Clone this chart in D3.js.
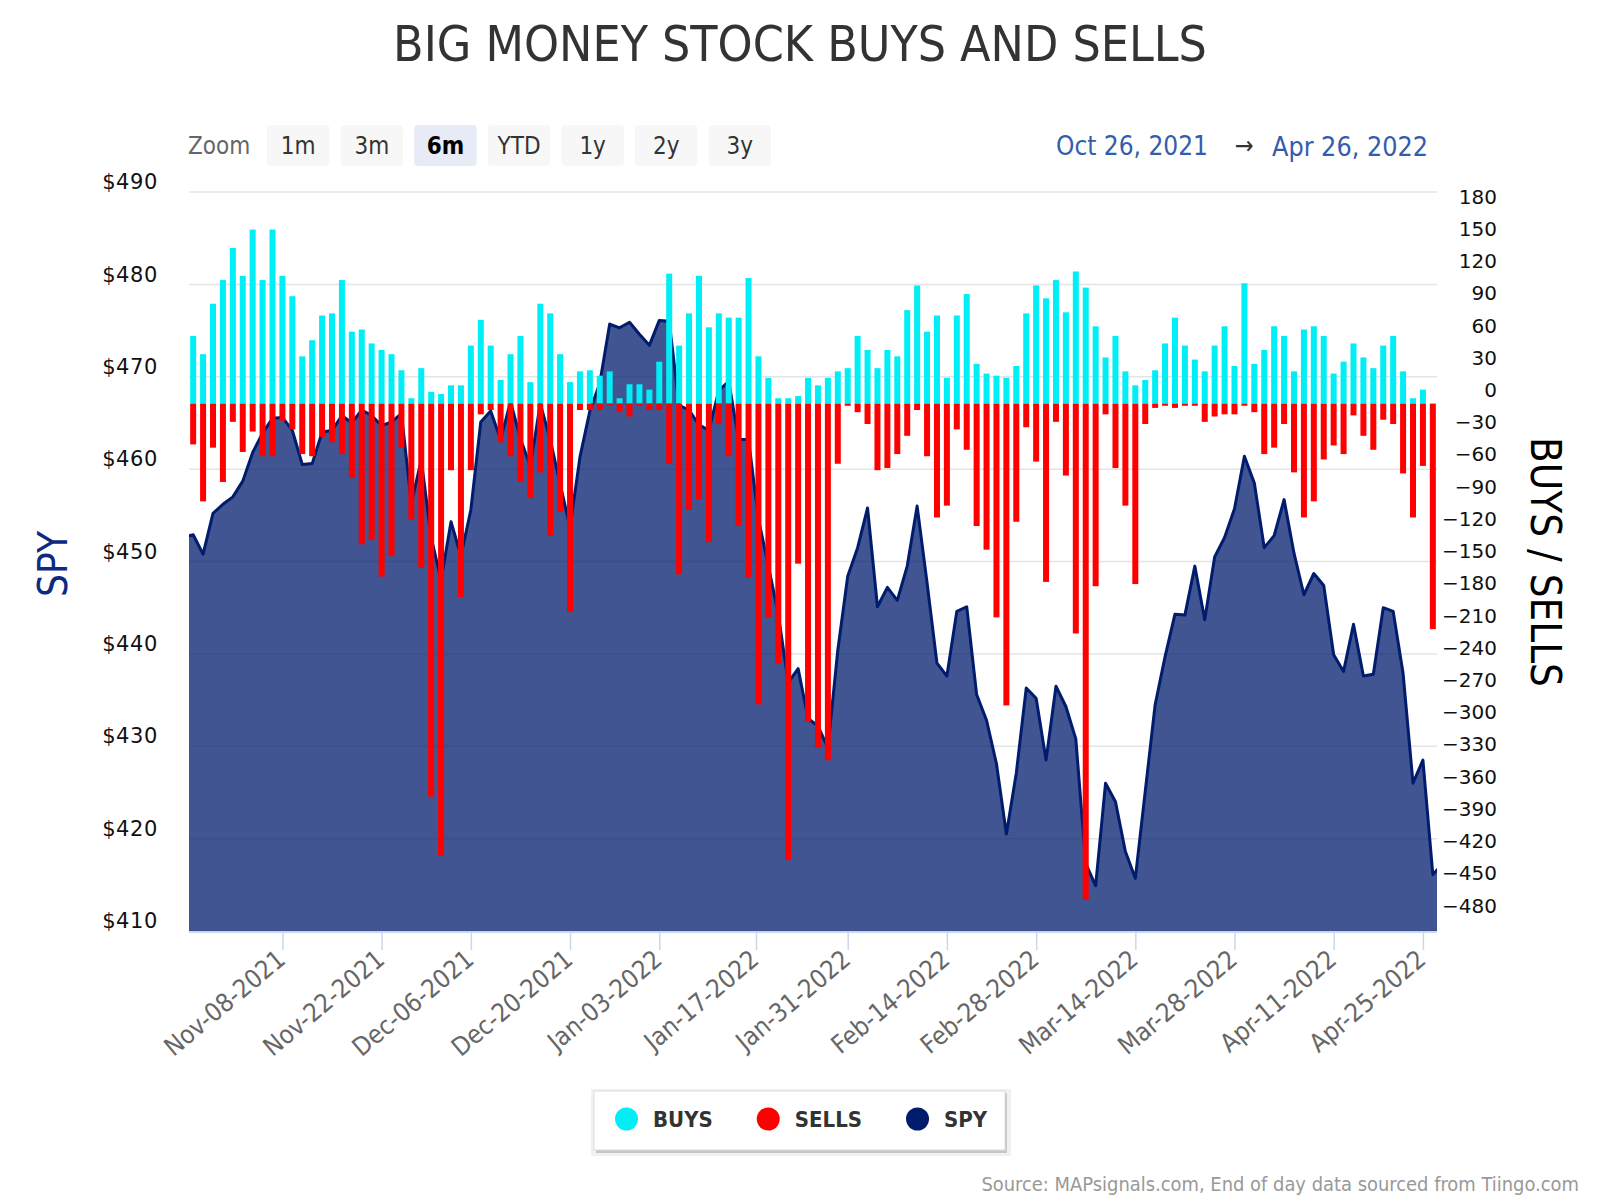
<!DOCTYPE html>
<html><head><meta charset="utf-8">
<script src="https://cdn.jsdelivr.net/npm/d3@7"></script>
<style>
body{margin:0;background:#fff;}
svg{display:block;}
</style></head><body>
<svg id="chart" width="1600" height="1200"></svg>
<script>
// ---------------- DATA ----------------
const dates = [
"2021-10-26","2021-10-27","2021-10-28","2021-10-29",
"2021-11-01","2021-11-02","2021-11-03","2021-11-04","2021-11-05","2021-11-08","2021-11-09","2021-11-10","2021-11-11","2021-11-12",
"2021-11-15","2021-11-16","2021-11-17","2021-11-18","2021-11-19","2021-11-22","2021-11-23","2021-11-24","2021-11-26","2021-11-29","2021-11-30",
"2021-12-01","2021-12-02","2021-12-03","2021-12-06","2021-12-07","2021-12-08","2021-12-09","2021-12-10","2021-12-13","2021-12-14","2021-12-15",
"2021-12-16","2021-12-17","2021-12-20","2021-12-21","2021-12-22","2021-12-23","2021-12-27","2021-12-28","2021-12-29","2021-12-30","2021-12-31",
"2022-01-03","2022-01-04","2022-01-05","2022-01-06","2022-01-07","2022-01-10","2022-01-11","2022-01-12","2022-01-13","2022-01-14",
"2022-01-18","2022-01-19","2022-01-20","2022-01-21","2022-01-24","2022-01-25","2022-01-26","2022-01-27","2022-01-28","2022-01-31",
"2022-02-01","2022-02-02","2022-02-03","2022-02-04","2022-02-07","2022-02-08","2022-02-09","2022-02-10","2022-02-11",
"2022-02-14","2022-02-15","2022-02-16","2022-02-17","2022-02-18","2022-02-22","2022-02-23","2022-02-24","2022-02-25","2022-02-28",
"2022-03-01","2022-03-02","2022-03-03","2022-03-04","2022-03-07","2022-03-08","2022-03-09","2022-03-10","2022-03-11",
"2022-03-14","2022-03-15","2022-03-16","2022-03-17","2022-03-18","2022-03-21","2022-03-22","2022-03-23","2022-03-24","2022-03-25",
"2022-03-28","2022-03-29","2022-03-30","2022-03-31","2022-04-01","2022-04-04","2022-04-05","2022-04-06","2022-04-07","2022-04-08",
"2022-04-11","2022-04-12","2022-04-13","2022-04-14","2022-04-18","2022-04-19","2022-04-20","2022-04-21","2022-04-22","2022-04-25","2022-04-26"
];

const buys = [
63,46,93,115,145,119,162,115,162,119,
100,44,59,82,84,115,67,69,56,50,
46,31,5,33,11,9,17,17,54,78,
54,22,46,63,20,93,84,46,20,30,
31,26,30,5,18,18,13,39,121,54,
84,119,71,84,80,80,117,44,24,5,
5,7,24,17,24,30,33,63,50,33,
50,44,87,110,67,82,24,82,102,37,
28,26,24,35,84,110,98,115,85,123,
108,72,43,63,30,17,22,31,56,80,
54,41,30,54,72,35,112,37,50,72,
63,30,69,72,63,28,39,56,43,33,
54,63,30,5,13,0
];

const sells = [
-38,-91,-41,-73,-17,-45,-26,-49,-49,-16,
-24,-47,-49,-31,-36,-47,-69,-131,-127,-161,
-142,-41,-108,-153,-366,-421,-62,-180,-62,-10,
-6,-36,-49,-73,-88,-64,-123,-101,-194,-6,
-6,-6,-2,-8,-12,-2,-6,-6,-56,-159,
-99,-89,-129,-19,-49,-114,-162,-280,-199,-242,
-425,-149,-296,-320,-332,-56,-2,-8,-19,-62,
-60,-47,-30,-6,-49,-106,-95,-24,-43,-114,
-136,-199,-281,-110,-22,-54,-166,-17,-67,-214,
-462,-170,-10,-60,-95,-168,-19,-4,-2,-4,
-2,-2,-17,-12,-10,-10,-2,-8,-47,-41,
-19,-64,-106,-91,-52,-39,-47,-11,-30,-43,
-15,-19,-65,-106,-58,-210
];

const spy = [
452.9,450.8,455.2,456.2,457.0,458.7,461.8,463.9,465.5,465.6,
464.2,460.5,460.6,464.0,464.2,465.8,465.0,466.4,465.8,464.7,
465.1,466.0,456.3,461.0,452.6,448.0,454.3,450.6,455.6,465.1,
466.3,463.2,467.3,463.3,460.3,467.1,463.2,458.4,453.7,461.3,
466.3,469.3,475.7,475.3,475.9,474.6,473.4,476.1,476.0,466.9,
466.4,464.8,464.2,468.5,469.5,463.2,463.2,454.6,449.5,444.3,
436.9,438.4,433.0,432.2,429.8,440.4,448.4,451.5,455.8,445.1,
447.2,445.8,449.5,456.0,447.7,439.0,437.6,444.6,445.1,435.6,
432.8,428.1,420.5,427.1,436.3,435.2,428.5,436.5,434.3,430.8,
417.3,414.9,426.0,424.0,418.6,415.7,425.1,434.5,439.7,444.3,
444.2,449.5,443.7,450.5,452.6,455.7,461.4,458.5,451.5,452.8,
456.7,450.9,446.4,448.7,447.4,439.9,438.1,443.2,437.6,437.8,
445.0,444.6,437.9,426.0,428.5,416.1
];
// neighbouring closes just outside the visible range (clipped by the plot)
const spyBefore = 452.6;   // Oct-25-2021
const spyAfter = 417.3;    // Apr-27-2022

const leftTicks = [410,420,430,440,450,460,470,480,490];
const rightTicks = [180,150,120,90,60,30,0,-30,-60,-90,-120,-150,-180,-210,-240,-270,-300,-330,-360,-390,-420,-450,-480];
const xTickLabels = ["Nov-08-2021","Nov-22-2021","Dec-06-2021","Dec-20-2021","Jan-03-2022","Jan-17-2022","Jan-31-2022",
                     "Feb-14-2022","Feb-28-2022","Mar-14-2022","Mar-28-2022","Apr-11-2022","Apr-25-2022"];
const zoomButtons = ["1m","3m","6m","YTD","1y","2y","3y"];
const selectedButton = "6m";
const rangeFrom = "Oct 26, 2021";
const rangeTo = "Apr 26, 2022";
const seriesNames = ["BUYS","SELLS","SPY"];
const seriesColors = ["#00eef5","#ff0000","#011c6d"];
const titleText = "BIG MONEY STOCK BUYS AND SELLS";
const sourceText = "Source: MAPsignals.com, End of day data sourced from Tiingo.com";

// ---------------- LAYOUT ----------------
const COND = "'DejaVu Sans Condensed','DejaVu Sans',sans-serif";
const SANS = "'DejaVu Sans',sans-serif";
const M = {left:189, right:1437, top:192, bottom:931};
const svg = d3.select("#chart");
svg.append("rect").attr("width",1600).attr("height",1200).attr("fill","#fff");

function fitWidth(sel, target){
  const fs = parseFloat(sel.attr("font-size"));
  const w = sel.node().getComputedTextLength();
  if (w > 0) sel.attr("font-size", (fs*target/w).toFixed(2));
  return sel;
}

const parse = d3.timeParse("%Y-%m-%d");
const dateObjs = dates.map(parse);
const n = dates.length;

const x = d3.scaleLinear().domain([-0.42, n-1+0.42]).range([M.left, M.right]);
const yL = d3.scaleLinear().domain([410,490]).range([M.bottom, M.top]);
const yR = d3.scaleLinear().domain([-491,197]).range([M.bottom, M.top]);

// ordinal position of any calendar date (interpolates over closed days)
const parseTick = d3.timeParse("%b-%d-%Y");
function ordinalPos(t){
  for (let k=0;k<n-1;k++){
    if (t >= dateObjs[k] && t < dateObjs[k+1]) return k + (t-dateObjs[k])/(dateObjs[k+1]-dateObjs[k]);
  }
  return n-1;
}
const tickPositions = xTickLabels.map(s => ordinalPos(parseTick(s)));

// title
const title = svg.append("text").attr("x",800).attr("y",61).attr("text-anchor","middle")
  .attr("font-family",COND).attr("font-size",50).attr("fill","#333").text(titleText);
fitWidth(title, 814);

// range selector
svg.append("text").attr("x",188).attr("y",146).attr("dominant-baseline","central")
  .attr("font-family",COND).attr("font-size",24).attr("fill","#666").text("Zoom");
const btn = svg.append("g").selectAll("g").data(zoomButtons).join("g")
  .attr("transform",(d,i)=>`translate(${267+i*73.6},125)`);
btn.append("rect").attr("width",62.5).attr("height",41).attr("rx",4)
  .attr("fill",d=>d===selectedButton?"#e6ebf5":"#f7f7f7");
btn.append("text").attr("x",31.25).attr("y",21).attr("text-anchor","middle").attr("dominant-baseline","central")
  .attr("font-family",COND).attr("font-size",24)
  .attr("font-weight",d=>d===selectedButton?"bold":"normal")
  .attr("fill",d=>d===selectedButton?"#000":"#333").text(d=>d);

const fromT = svg.append("text").attr("x",1208).attr("y",146).attr("text-anchor","end").attr("dominant-baseline","central")
  .attr("font-family",COND).attr("font-size",24).attr("fill","#335cad").text(rangeFrom);
fitWidth(fromT,152);
svg.append("text").attr("x",1244).attr("y",145).attr("text-anchor","middle").attr("dominant-baseline","central")
  .attr("font-family",COND).attr("font-size",25).attr("fill","#333").text("→");
const toT = svg.append("text").attr("x",1272).attr("y",146).attr("dominant-baseline","central")
  .attr("font-family",COND).attr("font-size",24).attr("fill","#335cad").text(rangeTo);
fitWidth(toT,156);

// grid
svg.append("g").selectAll("line").data(leftTicks).join("line")
  .attr("x1",M.left).attr("x2",M.right).attr("y1",d=>yL(d)).attr("y2",d=>yL(d))
  .attr("stroke","#e4e4e4").attr("stroke-width",1.5);

// clip
svg.append("clipPath").attr("id","plotclip").append("rect")
  .attr("x",M.left).attr("y",M.top-5).attr("width",M.right-M.left).attr("height",M.bottom-M.top+5);

const spyPts = [{i:-1,v:spyBefore}].concat(spy.map((v,i)=>({i,v})), [{i:n,v:spyAfter}]);
const plot = svg.append("g").attr("clip-path","url(#plotclip)");
plot.append("path").datum(spyPts)
  .attr("d", d3.area().x(d=>x(d.i)).y0(yL(410)).y1(d=>yL(d.v)))
  .attr("fill",seriesColors[2]).attr("fill-opacity",0.75);
plot.append("path").datum(spyPts)
  .attr("d", d3.line().x(d=>x(d.i)).y(d=>yL(d.v)))
  .attr("fill","none").attr("stroke",seriesColors[2]).attr("stroke-width",3).attr("stroke-linejoin","round");

// bars
const bw = 6;
svg.append("g").selectAll("rect").data(buys).join("rect")
  .attr("x",(d,i)=>x(i)-bw/2).attr("width",bw)
  .attr("y",d=>yR(d)).attr("height",d=>yR(0)-yR(d)).attr("fill",seriesColors[0]);
svg.append("g").selectAll("rect").data(sells).join("rect")
  .attr("x",(d,i)=>x(i)-bw/2).attr("width",bw)
  .attr("y",yR(0)).attr("height",d=>yR(d)-yR(0)).attr("fill",seriesColors[1]);

// left axis
const gL = svg.append("g").attr("transform",`translate(${M.left},0)`)
  .call(d3.axisLeft(yL).tickValues(leftTicks).tickFormat(d=>"$"+d).tickSize(0).tickPadding(31));
gL.select(".domain").remove();
gL.selectAll("text").attr("y",-10).attr("font-family",SANS).attr("font-size",21)
  .attr("letter-spacing","0.6px").attr("fill","#111");

// right axis
const gR = svg.append("g").attr("transform",`translate(${M.right},0)`)
  .call(d3.axisRight(yR).tickValues(rightTicks).tickSize(0));
gR.select(".domain").remove();
gR.selectAll("text").attr("x",60).attr("text-anchor","end").attr("y",-13.5)
  .attr("font-family",SANS).attr("font-size",20).attr("fill","#111");

// x axis
const gX = svg.append("g").attr("transform",`translate(0,${M.bottom})`)
  .call(d3.axisBottom(x).tickValues(tickPositions).tickFormat((d,i)=>xTickLabels[i]).tickSize(19).tickSizeOuter(0));
gX.select(".domain").attr("stroke","#ccd6eb").attr("stroke-width",2).attr("d",`M${M.left},1H${M.right}`);
gX.selectAll(".tick line").attr("stroke","#ccd6eb").attr("stroke-width",1.5);
gX.selectAll("text").attr("x",0).attr("y",0).attr("dy",0).attr("text-anchor","end")
  .attr("transform","translate(4,31) rotate(-40)")
  .attr("font-family",COND).attr("font-size",25.5).attr("fill","#666");

// axis titles
const spyT = svg.append("text").attr("transform","translate(67,564) rotate(-90)").attr("text-anchor","middle")
  .attr("font-family",COND).attr("font-size",42).attr("fill","#0d2a80").text("SPY");
fitWidth(spyT,66);
const bsT = svg.append("text").attr("transform","translate(1531,562) rotate(90)").attr("text-anchor","middle")
  .attr("font-family",COND).attr("font-size",42).attr("fill","#000").text("BUYS / SELLS");
fitWidth(bsT,250);

// legend
const lg = svg.append("g");
lg.append("rect").attr("x",591).attr("y",1089).attr("width",420).attr("height",67).attr("fill","#f1f1f1");
lg.append("rect").attr("x",596).attr("y",1093).attr("width",411).attr("height",60).attr("fill","#c6c6c6");
lg.append("rect").attr("x",594).attr("y",1091).attr("width",411).attr("height",59).attr("fill","#fff").attr("stroke","#dcdcdc");
let lx = 615;
seriesNames.forEach((name,k)=>{
  lg.append("circle").attr("cx",lx+11.5).attr("cy",1119).attr("r",11.5).attr("fill",seriesColors[k]);
  const t = lg.append("text").attr("x",lx+38).attr("y",1119).attr("dominant-baseline","central")
    .attr("font-family",COND).attr("font-size",22).attr("font-weight","bold").attr("fill","#333").text(name);
  lx = lx + 38 + t.node().getComputedTextLength() + 44;
});

// source
const src = svg.append("text").attr("x",1579).attr("y",1184).attr("text-anchor","end").attr("dominant-baseline","central")
  .attr("font-family",COND).attr("font-size",19).attr("fill","#999").text(sourceText);
fitWidth(src,598);
</script>
</body></html>
